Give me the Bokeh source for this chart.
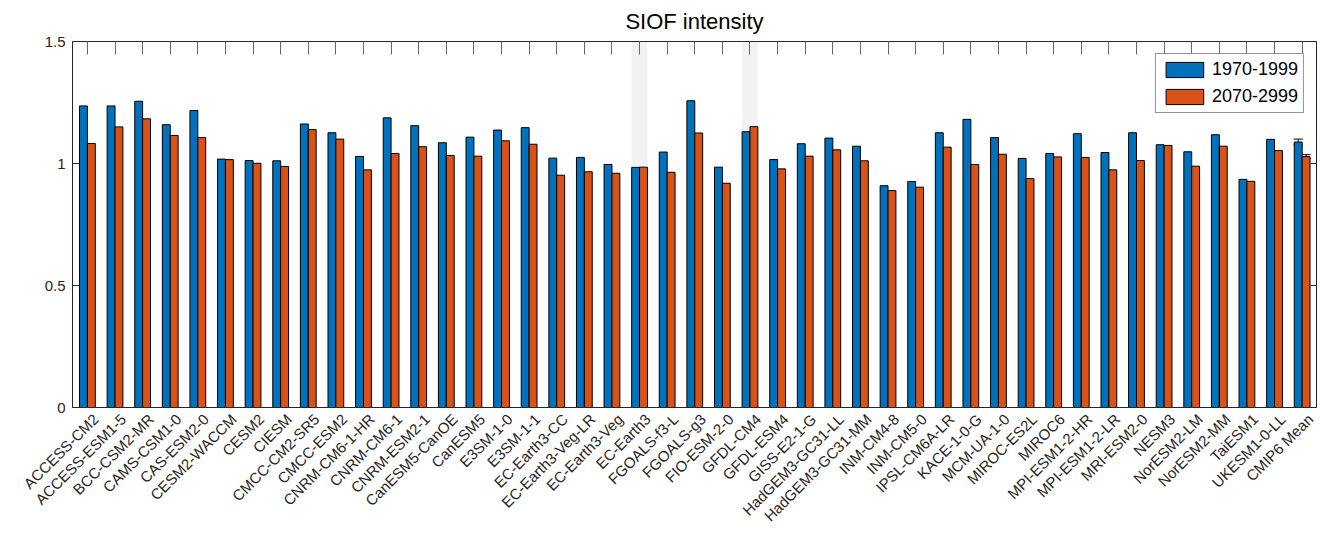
import numpy as np
from bokeh.plotting import figure
from bokeh.models import (ColumnDataSource, Range1d, LinearAxis, FixedTicker, Whisker,
                          TeeHead, Legend, LegendItem, CustomLabelingPolicy)
from bokeh.embed import file_html
from bokeh.resources import INLINE

models = ["ACCESS-CM2", "ACCESS-ESM1-5", "BCC-CSM2-MR", "CAMS-CSM1-0", "CAS-ESM2-0",
          "CESM2-WACCM", "CESM2", "CIESM", "CMCC-CM2-SR5", "CMCC-ESM2", "CNRM-CM6-1-HR",
          "CNRM-CM6-1", "CNRM-ESM2-1", "CanESM5-CanOE", "CanESM5", "E3SM-1-0", "E3SM-1-1",
          "EC-Earth3-CC", "EC-Earth3-Veg-LR", "EC-Earth3-Veg", "EC-Earth3", "FGOALS-f3-L",
          "FGOALS-g3", "FIO-ESM-2-0", "GFDL-CM4", "GFDL-ESM4", "GISS-E2-1-G",
          "HadGEM3-GC31-LL", "HadGEM3-GC31-MM", "INM-CM4-8", "INM-CM5-0", "IPSL-CM6A-LR",
          "KACE-1-0-G", "MCM-UA-1-0", "MIROC-ES2L", "MIROC6", "MPI-ESM1-2-HR",
          "MPI-ESM1-2-LR", "MRI-ESM2-0", "NESM3", "NorESM2-LM", "NorESM2-MM", "TaiESM1",
          "UKESM1-0-LL", "CMIP6 Mean"]

hist_1970_1999 = [1.236, 1.236, 1.255, 1.159, 1.217, 1.018, 1.012, 1.011, 1.162, 1.126,
                  1.029, 1.187, 1.155, 1.085, 1.108, 1.137, 1.147, 1.022, 1.025, 0.996,
                  0.984, 1.047, 1.257, 0.985, 1.130, 1.016, 1.081, 1.104, 1.071, 0.909,
                  0.926, 1.126, 1.181, 1.106, 1.021, 1.041, 1.122, 1.045, 1.126, 1.077,
                  1.048, 1.118, 0.935, 1.099, 1.088]

fut_2070_2099 = [1.082, 1.150, 1.183, 1.115, 1.106, 1.016, 1.001, 0.988, 1.139, 1.100,
                 0.974, 1.041, 1.069, 1.033, 1.030, 1.093, 1.079, 0.952, 0.966, 0.960,
                 0.985, 0.964, 1.125, 0.919, 1.151, 0.978, 1.030, 1.056, 1.011, 0.889,
                 0.903, 1.067, 0.996, 1.038, 0.938, 1.027, 1.025, 0.974, 1.012, 1.074,
                 0.989, 1.071, 0.927, 1.053, 1.028]

mean_err_hist = 0.012
mean_err_fut = 0.008
highlighted = ["EC-Earth3", "GFDL-CM4"]
legend_labels = ["1970-1999", "2070-2999"]
y_ticks = [0, 0.5, 1, 1.5]
y_tick_labels = ["0", "0.5", "1", "1.5"]

BLUE = "#0072BD"
ORANGE = "#D95319"
AXC = "#262626"
FONT = "Liberation Sans"

n = len(models)
pos = np.arange(1, n + 1)
group_w = 2 / 3.5
bar_w = group_w / 2
x_lo, x_hi = 0.46, n + 0.52
label_shift = 0.30

src = ColumnDataSource(dict(
    x1=pos - bar_w / 2, x2=pos + bar_w / 2,
    h=hist_1970_1999, f=fut_2070_2099, name=models))

p = figure(width=1320, height=533, output_backend="svg", toolbar_location=None,
           x_range=Range1d(x_lo, x_hi), y_range=Range1d(0, 1.5),
           x_axis_location=None, y_axis_location=None,
           min_border_left=72, min_border_right=4, min_border_top=41, min_border_bottom=126)
p.extra_x_ranges = {"labels": Range1d(x_lo - label_shift, x_hi - label_shift)}
p.grid.visible = False
p.outline_line_color = None
p.background_fill_color = "white"

p.title.text = "SIOF intensity"
p.title.align = "center"
p.title.text_font = FONT
p.title.text_font_size = "22px"
p.title.text_font_style = "normal"
p.title.text_color = "black"
p.title.standoff = 7

# highlighted bands
hl_idx = [models.index(m) for m in highlighted]
band = ColumnDataSource(dict(x=pos[hl_idx], top=[y_ticks[-1]] * len(hl_idx)))
p.vbar(x="x", top="top", bottom=0, width=group_w, source=band,
       fill_color="#f2f2f2", line_color=None)

r1 = p.vbar(x="x1", top="h", width=bar_w, source=src, fill_color=BLUE,
            line_color="black", line_width=1)
r2 = p.vbar(x="x2", top="f", width=bar_w, source=src, fill_color=ORANGE,
            line_color="black", line_width=1)

# error bars on the mean
i = n - 1
err = ColumnDataSource(dict(
    x=[pos[i] - bar_w / 2, pos[i] + bar_w / 2],
    lo=[hist_1970_1999[i] - mean_err_hist, fut_2070_2099[i] - mean_err_fut],
    hi=[hist_1970_1999[i] + mean_err_hist, fut_2070_2099[i] + mean_err_fut]))
w = Whisker(base="x", lower="lo", upper="hi", source=err, dimension="height",
            line_color="black", line_width=1,
            upper_head=TeeHead(size=9, line_color="black", line_width=1),
            lower_head=TeeHead(size=9, line_color="black", line_width=1))
p.add_layout(w)


def hide_labels():
    return CustomLabelingPolicy(code="for (const i of indices) { indices.unset(i) }\nreturn indices")


# axes
left = LinearAxis(ticker=FixedTicker(ticks=y_ticks),
                  major_label_overrides={t: l for t, l in zip(y_ticks, y_tick_labels)},
                  major_tick_in=7, major_tick_out=0, minor_tick_line_color=None,
                  axis_line_color=AXC, major_tick_line_color=AXC,
                  major_label_text_font=FONT, major_label_text_font_size="15px",
                  major_label_text_color=AXC, major_label_standoff=7)
p.add_layout(left, "left")

right = LinearAxis(ticker=FixedTicker(ticks=y_ticks),
                   major_tick_in=6, major_tick_out=0, minor_tick_line_color=None,
                   axis_line_color=AXC, major_tick_line_color=AXC,
                   major_label_text_font_size="1px", major_label_standoff=0,
                   major_label_policy=hide_labels())
p.add_layout(right, "right")

top = LinearAxis(ticker=FixedTicker(ticks=list(pos)),
                 major_tick_in=13, major_tick_out=0, minor_tick_line_color=None,
                 axis_line_color=AXC, major_tick_line_color="#666666",
                 major_label_text_font_size="1px", major_label_standoff=0,
                 major_label_policy=hide_labels())
p.add_layout(top, "above")

bottom = LinearAxis(x_range_name="labels", ticker=FixedTicker(ticks=list(pos)),
                    major_label_overrides={int(k): m for k, m in zip(pos, models)},
                    major_tick_line_color=None, minor_tick_line_color=None,
                    axis_line_color=AXC, major_label_orientation=np.pi / 4,
                    major_label_text_font=FONT, major_label_text_font_size="15px",
                    major_label_text_color=AXC, major_label_standoff=3)
p.add_layout(bottom, "below")

legend = Legend(items=[LegendItem(label=legend_labels[0], renderers=[r1]),
                       LegendItem(label=legend_labels[1], renderers=[r2])],
                location="top_right", margin=12, padding=5, spacing=6,
                glyph_width=47, glyph_height=19, label_height=19, label_standoff=4,
                label_text_font=FONT, label_text_font_size="18px",
                label_text_color="black", border_line_color=AXC, border_line_width=1,
                background_fill_alpha=1)
p.add_layout(legend, "center")

open("out.html", "w").write(file_html(p, INLINE))
